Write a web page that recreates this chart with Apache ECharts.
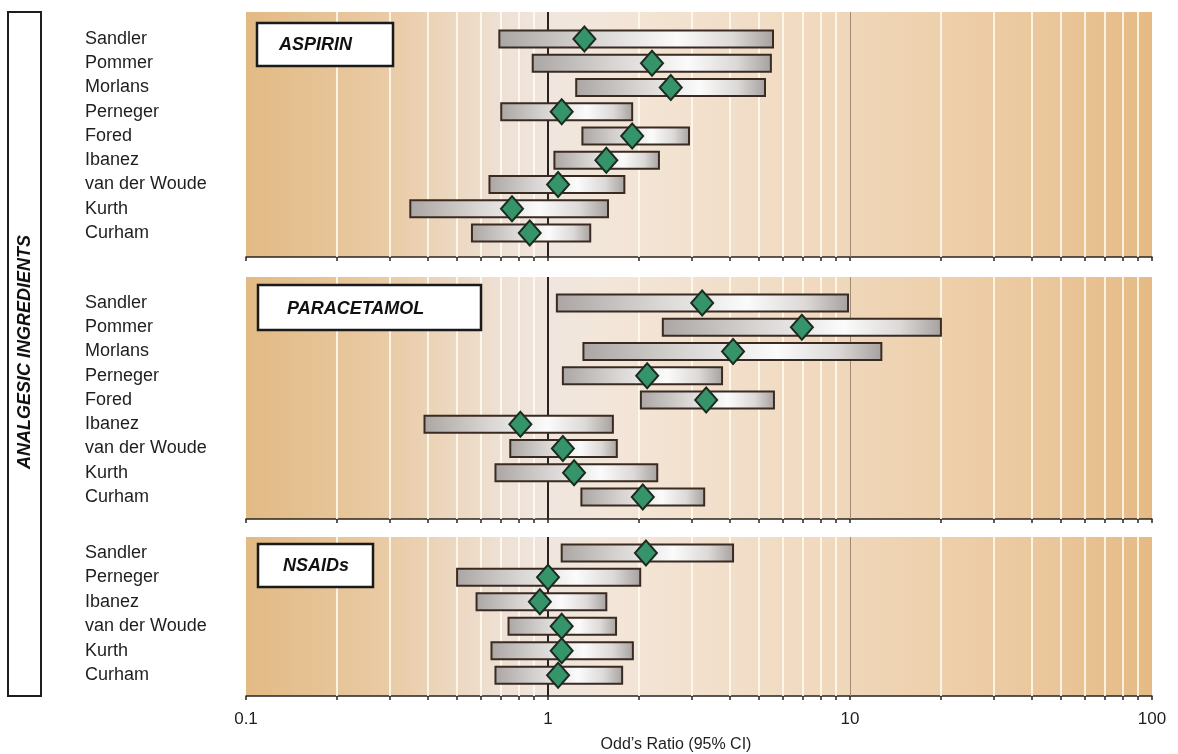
<!DOCTYPE html>
<html>
<head>
<meta charset="utf-8">
<title>Analgesic ingredients – odds ratios</title>
<script src="https://cdn.jsdelivr.net/npm/echarts@6/dist/echarts.min.js"></script>
<style>
  html, body { margin: 0; padding: 0; background: #ffffff; }
  #chart { width: 1178px; height: 754px; }
</style>
</head>
<body>
<div id="chart"></div>
<script>
// ---- Study data: odds ratio with 95% confidence interval ----
const aspirinStudies = ['Sandler', 'Pommer', 'Morlans', 'Perneger', 'Fored', 'Ibanez', 'van der Woude', 'Kurth', 'Curham'];
const aspirinOR   = [1.32, 2.21, 2.55, 1.11, 1.90, 1.56, 1.08, 0.76, 0.87];
const aspirinLow  = [0.69, 0.89, 1.24, 0.70, 1.30, 1.05, 0.64, 0.35, 0.56];
const aspirinHigh = [5.56, 5.47, 5.23, 1.90, 2.93, 2.33, 1.79, 1.58, 1.38];

const paracetamolStudies = ['Sandler', 'Pommer', 'Morlans', 'Perneger', 'Fored', 'Ibanez', 'van der Woude', 'Kurth', 'Curham'];
const paracetamolOR   = [3.24, 6.93, 4.10, 2.13, 3.34, 0.81, 1.12, 1.22, 2.06];
const paracetamolLow  = [1.07, 2.40, 1.31, 1.12, 2.03, 0.39, 0.75, 0.67, 1.29];
const paracetamolHigh = [9.85, 20.0, 12.7, 3.77, 5.60, 1.64, 1.69, 2.30, 3.29];

const nsaidStudies = ['Sandler', 'Perneger', 'Ibanez', 'van der Woude', 'Kurth', 'Curham'];
const nsaidOR   = [2.11, 1.00, 0.94, 1.11, 1.11, 1.08];
const nsaidLow  = [1.11, 0.50, 0.58, 0.74, 0.65, 0.67];
const nsaidHigh = [4.10, 2.02, 1.56, 1.68, 1.91, 1.76];

const panelTitles = ['ASPIRIN', 'PARACETAMOL', 'NSAIDs'];

// ---- Axis values ----
const tickLabels = [0.1, 1, 10, 100];
const minorGridValues = [0.2, 0.3, 0.4, 0.5, 0.6, 0.7, 0.8, 0.9,
                         2, 3, 4, 5, 6, 7, 8, 9,
                         20, 30, 40, 50, 60, 70, 80, 90];
const tickValues = [0.1, 0.2, 0.3, 0.4, 0.5, 0.6, 0.7, 0.8, 0.9,
                    1, 2, 3, 4, 5, 6, 7, 8, 9,
                    10, 20, 30, 40, 50, 60, 70, 80, 90, 100];
const nullValue = 1;

const FONT = '"Liberation Sans", Arial, Helvetica, sans-serif';

const panels = [
  { names: aspirinStudies, or: aspirinOR, low: aspirinLow, high: aspirinHigh },
  { names: paracetamolStudies, or: paracetamolOR, low: paracetamolLow, high: paracetamolHigh },
  { names: nsaidStudies, or: nsaidOR, low: nsaidLow, high: nsaidHigh }
];

// panel layout (grid top / height, row padding in row units)
const layout = [
  { top: 12,  height: 245, yMin: -1.11, yMax: 8.99 },
  { top: 277, height: 242, yMin: -1.07, yMax: 8.91 },
  { top: 537, height: 161, yMin: -0.65, yMax: 5.85 }
];

const bgGradient = {
  type: 'linear', x: 0, y: 0, x2: 1, y2: 0,
  colorStops: [
    { offset: 0.00, color: '#e2ba84' },
    { offset: 0.15, color: '#e9caa3' },
    { offset: 0.28, color: '#eee0d3' },
    { offset: 0.33, color: '#f0e6df' },
    { offset: 0.40, color: '#f3e6d9' },
    { offset: 0.60, color: '#f1dbc2' },
    { offset: 0.75, color: '#eed1ae' },
    { offset: 0.90, color: '#eac599' },
    { offset: 1.00, color: '#e5ba84' }
  ]
};

const barGradient = {
  type: 'linear', x: 0, y: 0, x2: 1, y2: 0,
  colorStops: [
    { offset: 0.00, color: '#aba6a3' },
    { offset: 0.35, color: '#d9d6d4' },
    { offset: 0.65, color: '#fbfbfb' },
    { offset: 0.85, color: '#dcd9d7' },
    { offset: 1.00, color: '#a6a19e' }
  ]
};

function renderInterval(params, api) {
  const row = api.value(2);
  const p0 = api.coord([api.value(0), row]);
  const p1 = api.coord([api.value(1), row]);
  const h = 17;
  return {
    type: 'rect',
    shape: { x: p0[0], y: p0[1] - h / 2, width: p1[0] - p0[0], height: h },
    style: { fill: barGradient, stroke: '#3a2b22', lineWidth: 2 }
  };
}

const grids = [], xAxes = [], yAxes = [], series = [];

panels.forEach((p, idx) => {
  const L = layout[idx];
  const isLast = idx === panels.length - 1;
  grids.push({
    left: 246, right: 26, top: L.top, height: L.height,
    show: true, backgroundColor: bgGradient, borderWidth: 0
  });
  xAxes.push({
    type: 'log', logBase: 10, min: 0.1, max: 100, gridIndex: idx,
    axisLine: { show: true, onZero: false, lineStyle: { color: '#2a2420', width: 1.5 } },
    axisTick: { show: true, customValues: tickValues, length: 4, inside: false,
                lineStyle: { color: '#2a2420', width: 1.5 } },
    axisLabel: isLast ? {
      show: true, customValues: tickLabels, margin: 15,
      formatter: v => String(v), color: '#1e1e1e', fontSize: 17, fontFamily: FONT
    } : { show: false },
    splitLine: { show: false },
    minorTick: { show: false },
    name: isLast ? 'Odd\u2019s Ratio (95% CI)' : '',
    nameLocation: 'middle', nameGap: 41,
    nameTextStyle: { color: '#1e1e1e', fontSize: 16, fontFamily: FONT, padding: [0, 46, 0, 0] }
  });
  yAxes.push({
    type: 'value', gridIndex: idx, inverse: true, min: L.yMin, max: L.yMax,
    axisLine: { show: false }, axisTick: { show: false }, splitLine: { show: false },
    axisLabel: {
      show: true, customValues: p.names.map((_, i) => i),
      formatter: v => p.names[Math.round(v)] || '',
      align: 'left', margin: 161, color: '#1e1e1e', fontSize: 18, fontFamily: FONT
    }
  });

  // reference lines: light decade subdivisions, the null line at 1 and the line at 10
  series.push({
    type: 'line', xAxisIndex: idx, yAxisIndex: idx, data: [], z: 1, silent: true,
    markLine: {
      z: 1, silent: true, symbol: 'none', animation: false,
      label: { show: false },
      data: minorGridValues.map(v => ({ xAxis: v, lineStyle: { color: 'rgba(255,250,240,0.85)', width: 2, type: 'solid' } }))
        .concat([
          { xAxis: nullValue, lineStyle: { color: '#2a221e', width: 2, type: 'solid' } },
          { xAxis: 10, lineStyle: { color: '#a08a74', width: 1, type: 'solid' } }
        ])
    }
  });

  // confidence interval bars
  series.push({
    type: 'custom', xAxisIndex: idx, yAxisIndex: idx, z: 3, silent: true,
    renderItem: renderInterval,
    encode: { x: [0, 1], y: 2 },
    data: p.low.map((lo, i) => [lo, p.high[i], i])
  });

  // point estimates
  series.push({
    type: 'scatter', xAxisIndex: idx, yAxisIndex: idx, z: 4, silent: true,
    symbol: 'diamond', symbolSize: [22, 25],
    itemStyle: { color: '#35946a', borderColor: '#1d2a20', borderWidth: 2, opacity: 1 },
    data: p.or.map((v, i) => [v, i])
  });
});

// panel title boxes and the side caption
const titleBoxes = [
  { x: 257, y: 23,  w: 136, h: 43, tx: 279, ty: 45 },
  { x: 258, y: 285, w: 223, h: 45, tx: 287, ty: 309 },
  { x: 258, y: 544, w: 115, h: 43, tx: 283, ty: 566 }
];

const graphics = [];
titleBoxes.forEach((b, i) => {
  graphics.push({
    type: 'rect', z: 100, shape: { x: b.x, y: b.y, width: b.w, height: b.h },
    style: { fill: '#ffffff', stroke: '#1a1a1a', lineWidth: 2.5 }
  });
  graphics.push({
    type: 'text', z: 101, x: b.tx, y: b.ty,
    style: { text: panelTitles[i], fill: '#111111', font: 'italic bold 18px ' + FONT,
             align: 'left', verticalAlign: 'middle' }
  });
});
graphics.push({
  type: 'rect', z: 100, shape: { x: 8, y: 12, width: 33, height: 684 },
  style: { fill: 'none', stroke: '#1e1e1e', lineWidth: 2 }
});
graphics.push({
  type: 'text', z: 101, x: 25, y: 352, rotation: Math.PI / 2,
  style: { text: 'ANALGESIC INGREDIENTS', fill: '#111111', font: 'italic bold 18px ' + FONT,
           align: 'center', verticalAlign: 'middle' }
});

const chart = echarts.init(document.getElementById('chart'), null, { renderer: 'canvas' });
chart.setOption({
  animation: false,
  backgroundColor: '#ffffff',
  grid: grids,
  xAxis: xAxes,
  yAxis: yAxes,
  series: series,
  graphic: graphics
});
</script>
</body>
</html>
